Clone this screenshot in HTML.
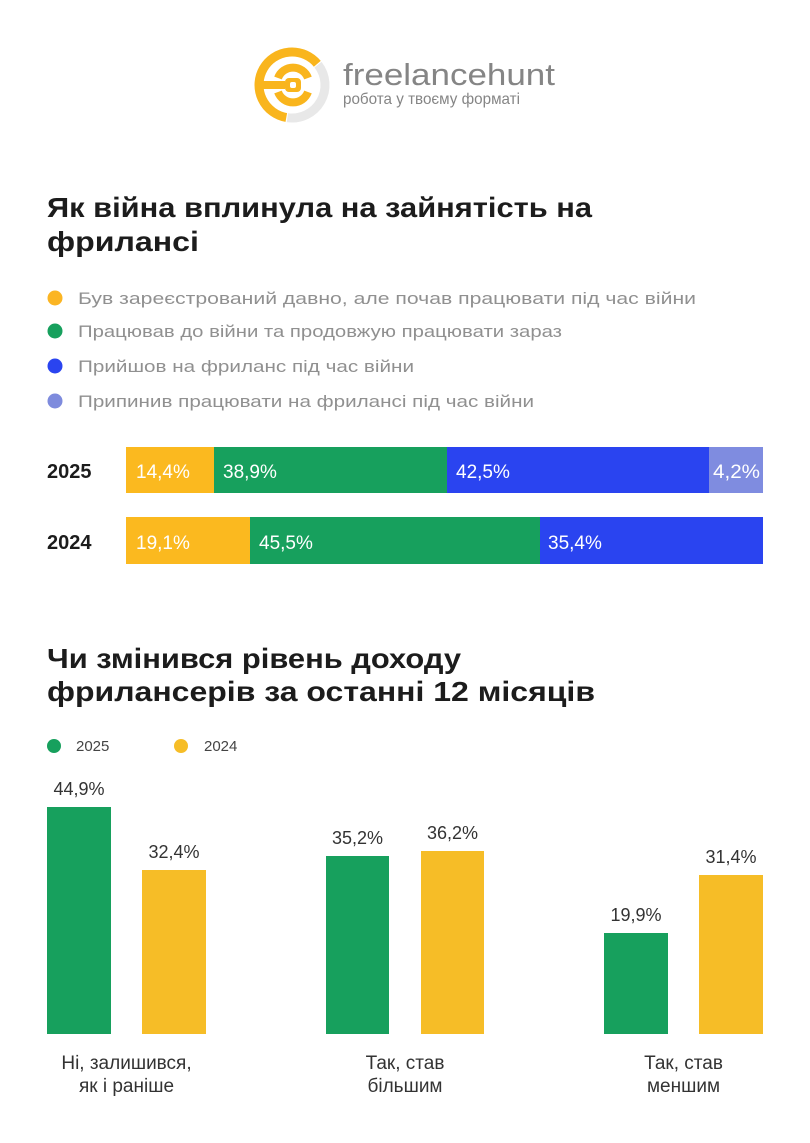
<!DOCTYPE html>
<html>
<head>
<meta charset="utf-8">
<style>
  html, body { margin: 0; padding: 0; background: #ffffff; }
  body { width: 810px; height: 1143px; overflow: hidden; }
  svg { display: block; }
  text { font-family: "Liberation Sans", "DejaVu Sans", sans-serif; }
</style>
</head>
<body>
<svg width="810" height="1143" viewBox="0 0 810 1143" xmlns="http://www.w3.org/2000/svg">
  <rect x="0" y="0" width="810" height="1143" fill="#ffffff"/>

  <!-- Logo -->
  <g>
    <path d="M 286.3 117.5 A 33 33 0 1 1 317.3 63.8" fill="none" stroke="#F9B51D" stroke-width="9"/>
    <path d="M 318.0 64.7 A 33 33 0 0 1 287.4 117.7" fill="none" stroke="#E8E8E8" stroke-width="9"/>
    <rect x="263" y="81" width="22" height="8" fill="#F9B51D"/>
    <path d="M 278 78 A 16 16 0 0 1 308 78" fill="none" stroke="#F9B51D" stroke-width="8"/>
    <path d="M 308 92 A 16 16 0 0 1 278 92" fill="none" stroke="#F9B51D" stroke-width="8"/>
    <rect x="285" y="78" width="16" height="14" rx="4" fill="#F9B51D"/>
    <rect x="290" y="82" width="6" height="6" rx="2" fill="#ffffff"/>
    <text x="343" y="85" font-size="31" fill="#858585" textLength="212" lengthAdjust="spacingAndGlyphs">freelancehunt</text>
    <text x="343" y="104" font-size="16" fill="#858585" textLength="177" lengthAdjust="spacingAndGlyphs">робота у твоєму форматі</text>
  </g>

  <!-- Title 1 -->
  <text x="47" y="217" font-size="28" font-weight="bold" fill="#1c1c1c" textLength="545" lengthAdjust="spacingAndGlyphs">Як війна вплинула на зайнятість на</text>
  <text x="47" y="251" font-size="28" font-weight="bold" fill="#1c1c1c" textLength="152" lengthAdjust="spacingAndGlyphs">фрилансі</text>

  <!-- Legend 1 -->
  <circle cx="55" cy="298" r="7.5" fill="#FBB523"/>
  <text x="78" y="304" font-size="17" fill="#909090" textLength="618" lengthAdjust="spacingAndGlyphs">Був зареєстрований давно, але почав працювати під час війни</text>
  <circle cx="55" cy="331" r="7.5" fill="#17A05D"/>
  <text x="78" y="337" font-size="17" fill="#909090" textLength="484" lengthAdjust="spacingAndGlyphs">Працював до війни та продовжую працювати зараз</text>
  <circle cx="55" cy="366" r="7.5" fill="#2A44F0"/>
  <text x="78" y="372" font-size="17" fill="#909090" textLength="336" lengthAdjust="spacingAndGlyphs">Прийшов на фриланс під час війни</text>
  <circle cx="55" cy="401" r="7.5" fill="#7E8BDD"/>
  <text x="78" y="407" font-size="17" fill="#909090" textLength="456" lengthAdjust="spacingAndGlyphs">Припинив працювати на фрилансі під час війни</text>

  <!-- Stacked bars -->
  <text x="47" y="478" font-size="20" font-weight="bold" fill="#1c1c1c">2025</text>
  <rect x="126" y="447" width="88" height="46" fill="#FBB91F"/>
  <rect x="214" y="447" width="233" height="46" fill="#17A05D"/>
  <rect x="447" y="447" width="262" height="46" fill="#2A44F0"/>
  <rect x="709" y="447" width="54" height="46" fill="#7F8CE0"/>
  <text x="136" y="478" font-size="19" fill="#ffffff">14,4%</text>
  <text x="223" y="478" font-size="19" fill="#ffffff">38,9%</text>
  <text x="456" y="478" font-size="19" fill="#ffffff">42,5%</text>
  <text x="713" y="478" font-size="19" fill="#ffffff" textLength="47" lengthAdjust="spacingAndGlyphs">4,2%</text>

  <text x="47" y="549" font-size="20" font-weight="bold" fill="#1c1c1c">2024</text>
  <rect x="126" y="517" width="124" height="47" fill="#FBB91F"/>
  <rect x="250" y="517" width="290" height="47" fill="#17A05D"/>
  <rect x="540" y="517" width="223" height="47" fill="#2A44F0"/>
  <text x="136" y="549" font-size="19" fill="#ffffff">19,1%</text>
  <text x="259" y="549" font-size="19" fill="#ffffff">45,5%</text>
  <text x="548" y="549" font-size="19" fill="#ffffff">35,4%</text>

  <!-- Title 2 -->
  <text x="47" y="668" font-size="28" font-weight="bold" fill="#1c1c1c" textLength="414" lengthAdjust="spacingAndGlyphs">Чи змінився рівень доходу</text>
  <text x="47" y="701" font-size="28" font-weight="bold" fill="#1c1c1c" textLength="548" lengthAdjust="spacingAndGlyphs">фрилансерів за останні 12 місяців</text>

  <!-- Legend 2 -->
  <circle cx="54" cy="746" r="7" fill="#17A05D"/>
  <text x="76" y="751" font-size="15" fill="#444444">2025</text>
  <circle cx="181" cy="746" r="7" fill="#F6BD27"/>
  <text x="204" y="751" font-size="15" fill="#444444">2024</text>

  <!-- Grouped bars -->
  <rect x="47" y="807" width="64" height="227" fill="#17A05D"/>
  <rect x="142" y="870" width="64" height="164" fill="#F6BD27"/>
  <rect x="326" y="856" width="63" height="178" fill="#17A05D"/>
  <rect x="421" y="851" width="63" height="183" fill="#F6BD27"/>
  <rect x="604" y="933" width="64" height="101" fill="#17A05D"/>
  <rect x="699" y="875" width="64" height="159" fill="#F6BD27"/>

  <g font-size="18" fill="#333333" text-anchor="middle">
    <text x="79" y="795">44,9%</text>
    <text x="174" y="858">32,4%</text>
    <text x="357.5" y="844">35,2%</text>
    <text x="452.5" y="839">36,2%</text>
    <text x="636" y="921">19,9%</text>
    <text x="731" y="863">31,4%</text>
  </g>

  <g font-size="19" fill="#333333" text-anchor="middle">
    <text x="126.5" y="1069">Ні, залишився,</text>
    <text x="126.5" y="1092">як і раніше</text>
    <text x="405" y="1069">Так, став</text>
    <text x="405" y="1092">більшим</text>
    <text x="683.5" y="1069">Так, став</text>
    <text x="683.5" y="1092">меншим</text>
  </g>
</svg>
</body>
</html>
